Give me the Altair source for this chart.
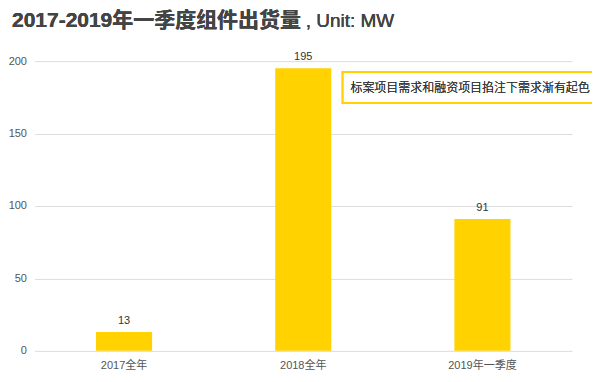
import altair as alt
import pandas as pd

categories = ["2017全年", "2018全年", "2019年一季度"]
values = [13, 195, 91]
title_bold = "2017-2019年一季度组件出货量"
title_unit = ", Unit: MW"
note = "标案项目需求和融资项目掐注下需求渐有起色"

df = pd.DataFrame({"cat": categories, "val": values})

FONT = "Liberation Sans, Noto Sans CJK SC"
YELLOW = "#FFD200"

x = alt.X("cat:N", sort=None, title=None,
          scale=alt.Scale(paddingInner=0.687, paddingOuter=0.3435),
          axis=alt.Axis(labelAngle=0, ticks=False, domain=False, labelPadding=9,
                        labelFontSize=11, labelColor="#555", labelFont=FONT))
y = alt.Y("val:Q", title=None,
          scale=alt.Scale(domain=[0, 200], nice=False),
          axis=alt.Axis(values=[0, 50, 100, 150, 200], ticks=False, domain=False,
                        labelPadding=8, labelFontSize=11, labelColor="#555",
                        labelFont=FONT, gridColor="#dddddd", gridWidth=1))

base = alt.Chart(df)
bars = base.mark_bar(color=YELLOW).encode(x=x, y=y)
labels = base.mark_text(dy=-11, fontSize=11, color="#333", font=FONT).encode(
    x=alt.X("cat:N", sort=None), y="val:Q", text="val:Q")

t1 = base.mark_text(align="left", baseline="middle", fontSize=21, fontWeight="bold",
                    color="#444", font=FONT).encode(
    x=alt.value(-22.5), y=alt.value(-40), text=alt.value(title_bold))
t2 = base.mark_text(align="left", baseline="middle", fontSize=19,
                    color="#444", font=FONT).encode(
    x=alt.value(271.5), y=alt.value(-40), text=alt.value(title_unit))

box = base.mark_rect(fill="white", stroke=YELLOW, strokeWidth=2).encode(
    x=alt.value(308.5), x2=alt.value(563.5), y=alt.value(11), y2=alt.value(42))
note_text = base.mark_text(fontSize=12, color="#333", font=FONT, baseline="middle",
                           fontWeight=300).encode(
    x=alt.value(436), y=alt.value(26.5), text=alt.value(note))

chart = alt.layer(bars, labels, t1, t2, box, note_text).properties(
    width=538, height=290,
    autosize=alt.AutoSizeParams(type="none"),
    padding={"left": 26.5, "top": 53, "right": 20, "bottom": 30},
).configure_view(stroke=None)

chart.save("out.html", embed_options={"renderer": "svg", "actions": False})
